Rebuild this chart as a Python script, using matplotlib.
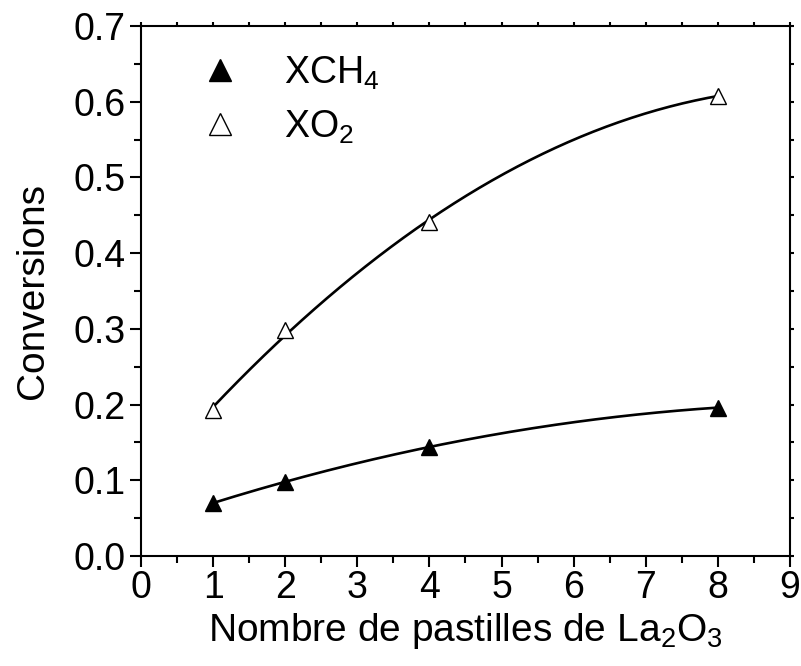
import numpy as np
import matplotlib
matplotlib.use("Agg")
import matplotlib.pyplot as plt
from matplotlib.ticker import MultipleLocator, FormatStrFormatter

plt.rcParams['font.family'] = ['Liberation Sans', 'DejaVu Sans']
plt.rcParams['mathtext.fontset'] = 'custom'
plt.rcParams['mathtext.rm'] = 'Liberation Sans'
plt.rcParams['mathtext.it'] = 'Liberation Sans'

x_vals = [1, 2, 4, 8]
xch4 = [0.070, 0.098, 0.144, 0.196]
xo2 = [0.193, 0.298, 0.441, 0.608]

fig = plt.figure(figsize=(8.01, 6.66), dpi=100)
ax = fig.add_axes([141/801, 1 - 556/666, (790-141)/801, (556-26)/666])

xs = np.linspace(1, 8, 200)
for ys in (xch4, xo2):
    c = np.polyfit(x_vals, ys, 2)
    ax.plot(xs, np.polyval(c, xs), color='black', lw=1.9, zorder=2)

ax.plot(x_vals, xch4, ls='none', marker='^', ms=12, mfc='black', mec='black', mew=1, zorder=3, label=r'XCH$_4$')
ax.plot(x_vals, xo2, ls='none', marker='^', ms=12, mfc='white', mec='black', mew=1, zorder=3, label=r'XO$_2$')

ax.set_xlim(0, 9)
ax.set_ylim(0, 0.7)
ax.xaxis.set_major_locator(MultipleLocator(1))
ax.xaxis.set_minor_locator(MultipleLocator(0.5))
ax.yaxis.set_major_locator(MultipleLocator(0.1))
ax.yaxis.set_minor_locator(MultipleLocator(0.05))
ax.yaxis.set_major_formatter(FormatStrFormatter('%.1f'))

for s in ax.spines.values():
    s.set_linewidth(1.5)

ax.tick_params(axis='both', which='major', direction='out', length=8, width=1.5, labelsize=27)
ax.tick_params(axis='x', which='major', pad=2)
ax.tick_params(axis='y', which='major', pad=3)
ax.tick_params(axis='both', which='minor', direction='out', length=5, width=1.5)
ax.tick_params(top=True, right=True, which='both')
for t in ax.xaxis.get_major_ticks() + ax.xaxis.get_minor_ticks():
    t.tick2line.set_markersize(3)
for t in ax.yaxis.get_major_ticks() + ax.yaxis.get_minor_ticks():
    t.tick2line.set_markersize(3)

ax.set_xlabel(r'Nombre de pastilles de La$_2$O$_3$', fontsize=28, labelpad=4)
ax.set_ylabel('Conversions', fontsize=28, labelpad=16)

leg = ax.legend(loc='upper left', bbox_to_anchor=(0.07, 0.975), frameon=False, fontsize=27,
                markerscale=1.3, handlelength=1.0, handletextpad=1.2, labelspacing=0.45,
                borderaxespad=0)

fig.savefig('out.png', dpi=100)
